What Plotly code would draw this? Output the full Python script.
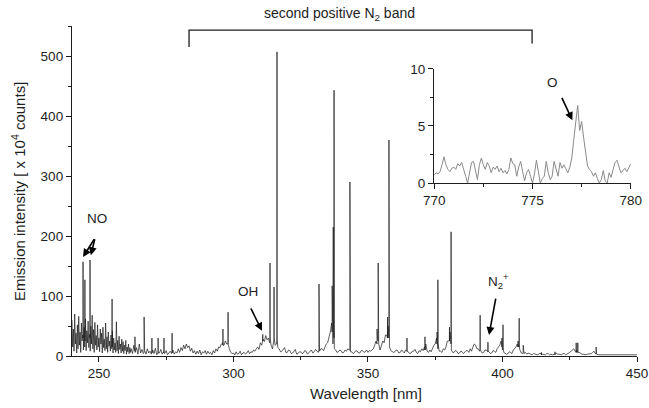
import numpy as np
import plotly.graph_objects as go

# ---------------- data ----------------
# dense noisy region 240.00 - 261.75 nm, 0.25 nm steps
noise_start, noise_step = 240.0, 0.25
noise_vals = [60, 15, 45, 8, 70, 20, 38, 5,
              52, 12, 66, 18, 40, 6, 55, 25,
              35, 10, 48, 15, 62, 9, 42, 22,
              58, 14, 36, 8, 50, 20, 68, 12,
              44, 6, 56, 18, 34, 10, 52, 15,
              30, 7, 45, 20, 38, 5, 48, 14,
              28, 9, 55, 12, 32, 6, 40, 16,
              25, 8, 35, 12, 42, 5, 30, 10,
              22, 6, 57, 9, 26, 4, 33, 11,
              20, 5, 28, 8, 24, 4, 18, 9,
              26, 3, 15, 7, 20, 4, 14, 6]

# baseline 262.0 - 299.5 nm, 0.5 nm steps
mid_start, mid_step = 262.0, 0.5
mid_vals = [12, 4, 18, 6, 14, 3, 20, 5,
            11, 4, 9, 3, 12, 5, 8, 3,
            10, 4, 13, 2, 8, 5, 11, 3,
            7, 4, 9, 2, 6, 8, 4, 10,
            3, 7, 5, 12, 6, 14, 9, 18,
            12, 20, 14, 17, 8, 13, 5, 9,
            3, 8, 4, 10, 2, 7, 5, 9,
            3, 8, 4, 6, 2, 9, 5, 12,
            8, 15, 14, 20, 22, 18, 25, 20,
            28, 12, 6, 4]

# baseline 300.0 - 450.0 nm, 0.5 nm steps
high_start, high_step = 300.0, 0.5
high_vals = [5, 2, 7, 3, 4, 8, 2, 5, 6, 3,
             5, 9, 4, 7, 6, 10, 8, 12, 15, 11,
             22, 18, 28, 24, 34, 27, 30, 22, 18, 12,
             25, 18, 20, 14, 12, 7, 8, 11, 14, 6,
             6, 10, 9, 4, 5, 8, 11, 3, 4, 7,
             7, 4, 5, 9, 8, 3, 6, 9, 10, 5,
             7, 11, 9, 6, 8, 12, 12, 9, 16, 20,
             22, 30, 40, 55, 20, 12, 10, 6, 7, 10,
             9, 5, 6, 10, 8, 12, 10, 7, 7, 4,
             6, 9, 8, 5, 5, 9, 9, 6, 7, 10,
             6, 9, 8, 10, 12, 18, 25, 30, 20, 10,
             18, 25, 22, 35, 35, 50, 15, 9, 8, 6,
             7, 10, 9, 5, 6, 10, 8, 5, 10, 14,
             7, 4, 5, 8, 8, 11, 6, 4, 9, 7,
             12, 9, 15, 20, 8, 6, 10, 7, 14, 18,
             20, 30, 12, 8, 8, 6, 12, 10, 15, 25,
             25, 40, 10, 6, 6, 9, 8, 4, 5, 8,
             7, 4, 6, 9, 9, 6, 12, 8, 15, 20,
             18, 12, 12, 8, 8, 5, 6, 10, 10, 7,
             7, 4, 5, 9, 8, 6, 12, 15, 18, 25,
             10, 6, 5, 3, 4, 7, 6, 4, 10, 12,
             15, 20, 18, 10, 5, 4, 4, 6, 3, 5,
             4, 2, 2, 4, 3, 2, 2, 3, 5, 3,
             3, 2, 2, 4, 4, 2, 3, 2, 2, 3,
             5, 3, 3, 2, 2, 4, 4, 2, 3, 4,
             6, 8, 10, 12, 8, 10, 12, 6, 4, 3,
             3, 2, 2, 3, 3, 4, 4, 6, 8, 4,
             3, 2, 2, 3, 3, 2, 2, 3, 2, 3,
             2, 3, 3, 2, 2, 3, 3, 2, 2, 3,
             3, 2, 2, 3, 3, 2, 2, 3, 3, 2,
             2]

# sharp emission lines: position (nm), top, foot level
line_wl = [244.1, 244.8, 246.7, 254.9, 263.4, 266.8, 269.7, 272.0, 274.2, 277.2,
           296.1, 298.0, 310.9, 313.6, 315.1, 316.2, 331.8, 336.7, 337.1, 337.4,
           343.3, 353.4, 353.8, 357.3, 357.8, 364.5, 371.2, 375.7, 376.0, 380.3,
           380.9, 391.7, 394.6, 399.8, 400.2, 405.8, 406.2, 407.7, 414.5, 419.5,
           427.4, 428.0, 434.8]
line_top = [157, 127, 160, 95, 32, 65, 30, 30, 30, 38,
            45, 73, 36, 155, 115, 507, 120, 117, 215, 443,
            290, 45, 155, 65, 360, 30, 32, 40, 127, 48,
            207, 68, 23, 30, 52, 25, 63, 18, 6, 7,
            22, 22, 15]
line_foot = [30, 25, 30, 15, 8, 6, 5, 5, 5, 5,
             18, 20, 25, 30, 30, 30, 10, 40, 60, 30,
             10, 20, 25, 30, 30, 8, 10, 20, 20, 25,
             20, 12, 8, 15, 15, 15, 15, 5, 2, 2,
             6, 6, 3]

# inset: 770 - 780 nm, 0.1 nm steps
inset_start, inset_step = 770.0, 0.1
inset_vals = [0.7, 0.9, 0.8, 1.0, 1.6, 2.3, 1.6, 1.2, 1.0, 1.3,
              1.4, 1.2, 1.7, 1.5, 1.8, 1.3, 0.6, 0.0, 0.9, 1.8,
              1.9, 1.0, 0.3, 1.6, 2.2, 1.6, 1.2, 1.8, 1.5, 0.9,
              1.4, 1.2, 1.5, 1.0, 1.3, 0.9, 1.1, 0.8, 1.2, 2.2,
              1.7, 1.6, 0.6, 1.4, 1.9, 1.0, 0.2, 0.9, 1.2, 0.6,
              0.0, 0.8, 2.0, 1.0, 0.0, 0.4, 0.6, 1.9, 0.9, 0.3,
              0.6, 1.9, 1.2, 0.6, 1.8, 1.3, 1.6, 1.2, 0.9, 1.4,
              2.2, 3.8, 5.5, 6.8, 4.6, 5.4, 4.0, 2.5, 1.5, 1.2,
              1.0, 0.6, 0.9, 0.4, 0.0, 0.3, 1.1, 0.2, 0.0, 0.9,
              0.5, 1.2, 1.8, 2.0, 1.4, 0.9, 1.1, 1.3, 1.0, 1.4,
              1.7]

x_ticks = [250, 300, 350, 400, 450]
y_ticks = [0, 100, 200, 300, 400, 500]
inset_x_ticks = [770, 775, 780]
inset_y_ticks = [0, 5, 10]

# ---------------- assemble spectrum ----------------
pts = []
for start, step, vals in [(noise_start, noise_step, noise_vals),
                          (mid_start, mid_step, mid_vals),
                          (high_start, high_step, high_vals)]:
    for i, v in enumerate(vals):
        pts.append((round(start + i * step, 3), v))
half = 0.03
for w, t, f in zip(line_wl, line_top, line_foot):
    pts += [(w - half, f), (w, t), (w + half, f)]
pts.sort()
spec_x = [p[0] for p in pts]
spec_y = [p[1] for p in pts]

ins_x = [round(inset_start + i * inset_step, 2) for i in range(len(inset_vals))]

FONT = "Liberation Sans, Arial, sans-serif"
INK = "#1e1e1e"

fig = go.Figure()
fig.add_trace(go.Scatter(x=spec_x, y=spec_y, mode="lines",
                         line=dict(color="#1a1a1a", width=0.7),
                         hoverinfo="skip", showlegend=False))
fig.add_trace(go.Scatter(x=ins_x, y=inset_vals, mode="lines",
                         line=dict(color="#8a8a8a", width=1),
                         xaxis="x2", yaxis="y2",
                         hoverinfo="skip", showlegend=False))

axis_common = dict(showline=True, linecolor=INK, linewidth=1.3, ticks="outside",
                   ticklen=5, tickwidth=1.2, tickcolor=INK, showgrid=False,
                   zeroline=False, automargin=False,
                   tickfont=dict(family=FONT, size=13.5, color=INK))

fig.update_layout(
    width=649, height=408, autosize=False,
    margin=dict(l=72, r=12, t=26, b=52),
    paper_bgcolor="white", plot_bgcolor="rgba(0,0,0,0)",
    xaxis=dict(range=[240, 450], tickvals=x_ticks,
               minor=dict(ticks="outside", ticklen=3, dtick=25, tick0=250,
                          tickcolor=INK, tickwidth=1.2),
               **axis_common),
    yaxis=dict(range=[0, 550], tickvals=y_ticks,
               minor=dict(ticks="outside", ticklen=3, dtick=50, tick0=0,
                          tickcolor=INK, tickwidth=1.2),
               **axis_common),
    xaxis2=dict(domain=[0.641, 0.989], anchor="y2", range=[770, 780],
                tickvals=inset_x_ticks,
                minor=dict(ticks="outside", ticklen=3, dtick=2.5, tick0=770,
                           tickcolor=INK, tickwidth=1.2),
                **axis_common),
    yaxis2=dict(domain=[0.524, 0.870], anchor="x2", range=[0, 10],
                tickvals=inset_y_ticks,
                minor=dict(ticks="outside", ticklen=3, dtick=2.5, tick0=0,
                           tickcolor=INK, tickwidth=1.2),
                **axis_common),
)

# bracket for the second positive N2 band
fig.add_shape(type="path", xref="x", yref="y",
              path="M 283.5,515 L 283.5,543 L 411,543 L 411,521",
              line=dict(color=INK, width=1.3))

ann = []
txt = dict(family=FONT, size=13.5, color=INK)
ann.append(dict(xref="paper", yref="paper", x=0.474, y=1.036,
                xanchor="center", yanchor="middle",
                text="second positive N<sub>2</sub> band", showarrow=False,
                font=dict(family=FONT, size=14, color=INK)))
ann.append(dict(xref="paper", yref="paper", x=0.52, y=-0.115,
                xanchor="center", yanchor="middle",
                text="Wavelength [nm]", showarrow=False,
                font=dict(family=FONT, size=15, color=INK)))
ann.append(dict(xref="paper", yref="paper", x=-0.0956, y=0.5,
                xanchor="center", yanchor="middle",
                text="Emission intensity [ x 10<sup>4</sup> counts]", textangle=-90,
                showarrow=False, font=dict(family=FONT, size=15, color=INK)))
ann.append(dict(xref="x", yref="y", x=249.3, y=230, text="NO", showarrow=False, font=txt))
ann.append(dict(xref="x", yref="y", x=305.4, y=107, text="OH", showarrow=False, font=txt))
ann.append(dict(xref="x", yref="y", x=398.4, y=125, text="N<sub>2</sub><sup>+</sup>",
                showarrow=False, font=txt))
ann.append(dict(xref="x2", yref="y2", x=776.0, y=8.8, text="O", showarrow=False, font=txt))

arrow = dict(text="", showarrow=True, arrowhead=2, arrowsize=1, arrowwidth=1.6,
             arrowcolor="#000000", standoff=0, startstandoff=0)
ann.append(dict(xref="x", yref="y", axref="x", ayref="y",
                x=244.1, y=165, ax=248.6, ay=197, **arrow))
ann.append(dict(xref="x", yref="y", axref="x", ayref="y",
                x=247.0, y=168, ax=248.6, ay=197, **arrow))
ann.append(dict(xref="x", yref="y", axref="x", ayref="y",
                x=310.6, y=42, ax=306.2, ay=82, **arrow))
ann.append(dict(xref="x", yref="y", axref="x", ayref="y",
                x=395.0, y=35, ax=397.6, ay=98, **arrow))
ann.append(dict(xref="x2", yref="y2", axref="x2", ayref="y2",
                x=777.03, y=5.5, ax=776.46, ay=7.6, **arrow))
fig.update_layout(annotations=ann)

# remove the browser's default 8px page margin so the figure sits at the origin
fig.write_html("out.html",
               config={"displayModeBar": False, "responsive": False},
               post_script="document.body.style.margin='0';document.body.style.padding='0';")
